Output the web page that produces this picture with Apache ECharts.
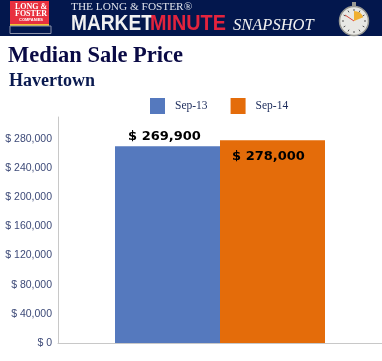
<!DOCTYPE html>
<html>
<head>
<meta charset="utf-8">
<style>
  html, body { margin: 0; padding: 0; background: #fff; }
  #chart { width: 382px; height: 361px; }
</style>
<script src="https://cdn.jsdelivr.net/npm/echarts@6/dist/echarts.min.js"></script>
</head>
<body>
<div id="chart"></div>
<script>
const categories = ['Havertown'];
const seriesNames = ['Sep-13', 'Sep-14'];
const sep13Values = [269900];
const sep14Values = [278000];

const NAVY = '#03174d';
const chart = echarts.init(document.getElementById('chart'));

function money(v) {
  return '$ ' + v.toLocaleString('en-US');
}

function dialTicks() {
  const out = [];
  for (let i = 0; i < 12; i++) {
    const a = i * Math.PI / 6;
    out.push({
      type: 'line',
      shape: { x1: 354 + 10 * Math.sin(a), y1: 21 - 10 * Math.cos(a), x2: 354 + 12 * Math.sin(a), y2: 21 - 12 * Math.cos(a) },
      style: { stroke: '#555', lineWidth: 1 }
    });
  }
  return out;
}

const headerGraphics = [
  { type: 'rect', shape: { x: 0, y: 0, width: 382, height: 36 }, style: { fill: NAVY } },
  // logo
  { type: 'rect', shape: { x: 10, y: 1, width: 39, height: 23 }, style: { fill: '#e8303f' } },
  { type: 'rect', shape: { x: 10, y: 24, width: 39, height: 2 }, style: { fill: '#f2c230' } },
  { type: 'rect', shape: { x: 10, y: 26, width: 41, height: 7.5 }, style: { fill: NAVY, stroke: '#8c93ab', lineWidth: 1 } },
  { type: 'text', x: 31, y: 3, style: { text: 'LONG &\nFOSTER', fill: '#fff', font: 'bold 8px "Liberation Serif"', align: 'center', lineHeight: 7.5 } },
  { type: 'text', x: 31, y: 18, style: { text: 'COMPANIES', fill: '#fff', font: 'bold 4px "Liberation Sans"', align: 'center' } },
  // banner wordmark
  { type: 'text', x: 71, y: 2, style: { text: 'THE LONG & FOSTER®', fill: '#dfe2ea', font: '11.3px "Liberation Serif"' } },
  { type: 'text', x: 71, y: 13, scaleX: 0.87, style: { text: 'MARKET', fill: '#f1f1f1', font: 'bold 22px "Liberation Sans"' } },
  { type: 'text', x: 150, y: 13, scaleX: 0.9, style: { text: 'MINUTE', fill: '#e2233d', font: 'bold 22px "Liberation Sans"' } },
  { type: 'text', x: 233, y: 17, style: { text: 'SNAPSHOT', fill: '#f1f1f1', font: 'italic 16.5px "Liberation Serif"' } },
  // stopwatch
  { type: 'rect', shape: { x: 352, y: 2, width: 4, height: 5 }, style: { fill: '#9a9a94' } },
  { type: 'circle', shape: { cx: 354, cy: 21, r: 14.5 }, style: { fill: '#e8e8e4', stroke: '#9a9a94', lineWidth: 1.5 } },
  { type: 'sector', shape: { cx: 354, cy: 21, r: 10, startAngle: -Math.PI / 2, endAngle: -Math.PI / 8 }, style: { fill: '#f0b030' } },
  { type: 'line', shape: { x1: 354, y1: 21, x2: 345, y2: 15 }, style: { stroke: '#d8453a', lineWidth: 1 } },
  ...dialTicks()
];

const option = {
  animation: false,
  backgroundColor: '#fff',
  textStyle: { fontFamily: '"Liberation Sans", sans-serif' },
  title: [
    {
      text: 'Median Sale Price',
      left: 3,
      top: 40,
      textStyle: { fontFamily: '"Liberation Serif", serif', fontWeight: 'bold', fontSize: 22.5, color: '#0a0a45' }
    },
    {
      text: categories[0],
      left: 4,
      top: 67,
      textStyle: { fontFamily: '"Liberation Serif", serif', fontWeight: 'bold', fontSize: 18, color: '#0a1a50' }
    }
  ],
  legend: {
    data: seriesNames,
    left: 145,
    top: 93,
    icon: 'rect',
    itemWidth: 15,
    itemHeight: 16,
    itemGap: 23,
    textStyle: { fontFamily: '"Liberation Serif", serif', fontSize: 11.5, color: '#1a2a5a', padding: [0, 0, 0, 5] }
  },
  grid: { left: 58, right: 0, top: 117, bottom: 18, outerBoundsMode: 'none' },
  xAxis: {
    type: 'category',
    data: categories,
    axisTick: { show: false },
    axisLabel: { show: false },
    axisLine: { lineStyle: { color: '#c8c8c8', width: 1 } }
  },
  yAxis: {
    type: 'value',
    min: 0,
    max: 310000,
    interval: 40000,
    splitLine: { show: false },
    axisTick: { show: false },
    axisLine: { show: true, lineStyle: { color: '#c8c8c8', width: 1 } },
    axisLabel: {
      showMaxLabel: false,
      margin: 6,
      fontSize: 10.5,
      color: '#3d4a78',
      formatter: money
    }
  },
  series: [
    {
      name: seriesNames[0],
      type: 'bar',
      data: sep13Values,
      barWidth: 105,
      barGap: 0,
      itemStyle: { color: '#5579be' },
      label: {
        show: true,
        position: 'top',
        distance: 3,
        offset: [-3, 0],
        fontFamily: '"DejaVu Sans", sans-serif',
        fontWeight: 'bold',
        fontSize: 13,
        color: '#000',
        formatter: p => money(p.value)
      }
    },
    {
      name: seriesNames[1],
      type: 'bar',
      data: sep14Values,
      barWidth: 105,
      itemStyle: { color: '#e46c0a' },
      label: {
        show: true,
        position: 'insideTop',
        distance: 10,
        offset: [-4, 0],
        fontFamily: '"DejaVu Sans", sans-serif',
        fontWeight: 'bold',
        fontSize: 13,
        color: '#000',
        formatter: p => money(p.value)
      }
    }
  ],
  graphic: headerGraphics
};

chart.setOption(option);
</script>
</body>
</html>
